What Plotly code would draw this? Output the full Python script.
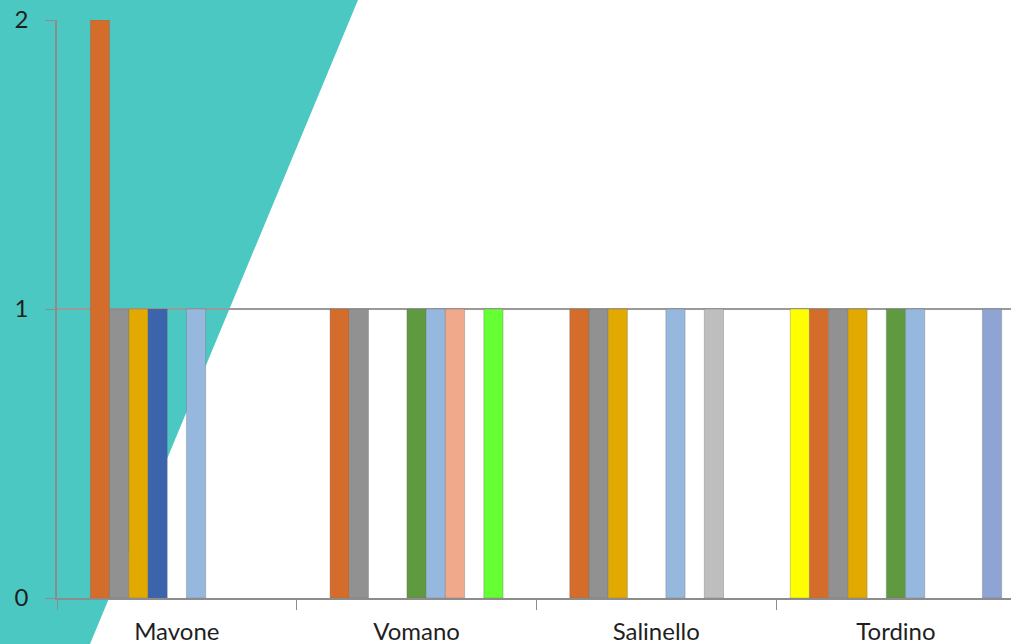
import plotly.graph_objects as go

# Rivers shown along the x axis
rivers = ["Mavone", "Vomano", "Salinello", "Tordino"]

# One list per series, values for Mavone, Vomano, Salinello, Tordino (None = no bar)
serie_1 = [None, None, None, 1]
serie_2 = [2, 1, 1, 1]
serie_3 = [1, 1, 1, 1]
serie_4 = [1, None, 1, 1]
serie_5 = [1, None, None, None]
serie_6 = [None, 1, None, 1]
serie_7 = [1, 1, 1, 1]
serie_8 = [None, 1, None, None]
serie_9 = [None, None, 1, None]
serie_10 = [None, 1, None, None]
serie_11 = [None, None, None, 1]

series = [serie_1, serie_2, serie_3, serie_4, serie_5, serie_6,
          serie_7, serie_8, serie_9, serie_10, serie_11]
colors = ["#FFFF00", "#D46D2B", "#919191", "#E2AA00", "#3B64AD", "#5F9A40",
          "#96B8DF", "#F0A98A", "#BEBEBE", "#66FF33", "#8EA5D4"]

y_ticks = [0, 1, 2]

fig = go.Figure()
for i, (vals, col) in enumerate(zip(series, colors)):
    fig.add_trace(go.Bar(
        x=rivers, y=vals, name=f"Serie {i + 1}",
        marker=dict(color=col, line=dict(color="rgba(110,110,110,0.35)", width=1)),
    ))

# Page geometry in pixels, used to place the teal backdrop in paper units
W, H = 1011, 644
ml, mr, mt, mb = 57, 0, 20, 46
pw, ph = W - ml - mr, H - mt - mb


def px(x):
    return (x - ml) / pw


def py(y):
    return (H - mb - y) / ph


teal_path = (f"M {px(0)} {py(0)} L {px(358)} {py(0)} "
             f"L {px(90)} {py(H)} L {px(0)} {py(H)} Z")

fig.update_layout(
    width=W, height=H,
    margin=dict(l=ml, r=mr, t=mt, b=mb, pad=0),
    barmode="group", bargap=0.118, bargroupgap=0,
    paper_bgcolor="white", plot_bgcolor="rgba(0,0,0,0)",
    showlegend=False,
    font=dict(family="Lato", size=24, color="#1f1f1f"),
    shapes=[dict(type="path", path=teal_path, xref="paper", yref="paper",
                 fillcolor="#4BC8C1", line=dict(width=0), layer="below")],
    xaxis=dict(
        type="category", range=[-0.5, -0.5 + pw / 239.7],
        tickson="boundaries", ticks="outside", ticklen=10, tickwidth=1.3,
        tickcolor="#8c8c8c", showline=True, linecolor="#8c8c8c", linewidth=1.5,
        showgrid=False, ticklabelstandoff=11,
        tickfont=dict(family="Lato", size=24, color="#1f1f1f"),
    ),
    yaxis=dict(
        range=[0, 2], tickvals=y_ticks, ticks="outside", ticklen=10,
        tickwidth=1.3, tickcolor="#8c8c8c", showline=True,
        linecolor="#8c8c8c", linewidth=1.5, showgrid=True,
        gridcolor="#9a9a9a", gridwidth=1.5, zeroline=False,
        ticklabelstandoff=12,
        tickfont=dict(family="Lato", size=24, color="#1f1f1f"),
    ),
)

fig.write_html("out.html")
